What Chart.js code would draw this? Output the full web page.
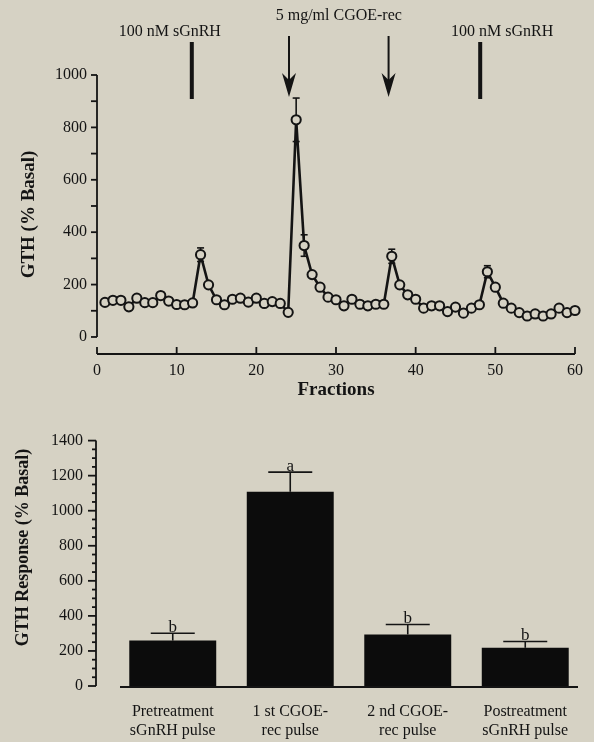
<!DOCTYPE html>
<html>
<head>
<meta charset="utf-8">
<script src="https://cdn.jsdelivr.net/npm/chart.js@4.4.1/dist/chart.umd.min.js"></script>
<style>
  body { margin: 0; background: #d6d2c4; }
  #wrap { position: relative; width: 594px; height: 742px; }
  canvas { position: absolute; left: 0; }
  #topChart { top: 0; }
  #barChart { top: 400px; }
</style>
</head>
<body>
<div id="wrap">
  <canvas id="topChart" width="594" height="400"></canvas>
  <canvas id="barChart" width="594" height="342"></canvas>
</div>
<script>
// top panel: GTH release per fraction
const fractions = [1, 2, 3, 4, 5, 6, 7, 8, 9, 10, 11, 12, 13, 14, 15, 16, 17, 18, 19, 20,
  21, 22, 23, 24, 25, 26, 27, 28, 29, 30, 31, 32, 33, 34, 35, 36, 37, 38, 39, 40,
  41, 42, 43, 44, 45, 46, 47, 48, 49, 50, 51, 52, 53, 54, 55, 56, 57, 58, 59, 60];
const gthBasal = [132, 140, 140, 115, 148, 131, 131, 158, 137, 124, 123, 130, 314, 199, 142, 123, 144, 148, 133, 148,
  128, 135, 128, 94, 829, 349, 238, 190, 152, 142, 119, 144, 125, 119, 125, 125, 308, 199, 161, 144,
  110, 119, 119, 97, 114, 91, 110, 123, 249, 190, 129, 110, 93, 80, 88, 80, 88, 110, 93, 101];
const gthSem = [0, 0, 0, 0, 0, 0, 0, 0, 0, 0, 0, 0, 26, 0, 0, 0, 0, 0, 0, 0,
  0, 0, 0, 0, 83, 41, 0, 0, 0, 0, 0, 0, 0, 0, 0, 0, 27, 0, 0, 0,
  0, 0, 0, 0, 0, 0, 0, 0, 23, 0, 0, 0, 0, 0, 0, 0, 0, 0, 0, 0];
const fracTicks = [0, 10, 20, 30, 40, 50, 60];
const gthTicks = [0, 200, 400, 600, 800, 1000];
// treatments (fraction at which each pulse was given)
const pulseFractions = [11.9, 24.1, 36.6, 48.1];
const pulseKinds = ["bar", "arrow", "arrow", "bar"];

// bottom panel: mean responses
const barLabels = [["Pretreatment", "sGnRH pulse"], ["1 st CGOE-", "rec pulse"], ["2 nd CGOE-", "rec pulse"], ["Postreatment", "sGnRH pulse"]];
const barMeans = [259, 1108, 294, 218];
const barSem = [42, 112, 57, 36];
const sigLetters = ["b", "a", "b", "b"];
const responseTicks = [0, 200, 400, 600, 800, 1000, 1200, 1400];

const paper = "#d6d2c4";
const ink = "#141414";
const serif = '"Liberation Serif", "Times New Roman", serif';

function seg(ctx, x1, y1, x2, y2) {
  ctx.beginPath();
  ctx.moveTo(x1, y1);
  ctx.lineTo(x2, y2);
  ctx.stroke();
}

const topDecor = {
  id: "topDecor",
  beforeDatasetsDraw(chart) {
    const { ctx, scales: { x, y } } = chart;
    ctx.save();
    ctx.strokeStyle = ink;
    ctx.lineWidth = 1.6;
    gthSem.forEach((e, i) => {
      if (!e) return;
      const px = x.getPixelForValue(fractions[i]);
      const lo = y.getPixelForValue(gthBasal[i] - e);
      const hi = y.getPixelForValue(gthBasal[i] + e);
      seg(ctx, px, lo, px, hi);
      seg(ctx, px - 3.5, hi, px + 3.5, hi);
      seg(ctx, px - 3.5, lo, px + 3.5, lo);
    });
    ctx.restore();
  },
  afterDraw(chart) {
    const { ctx, chartArea, scales: { x, y } } = chart;
    ctx.save();
    ctx.strokeStyle = ink;
    ctx.fillStyle = ink;
    ctx.lineWidth = 1.8;
    // y axis, stops at 0
    const ax = chartArea.left;
    seg(ctx, ax, y.getPixelForValue(1000), ax, y.getPixelForValue(0));
    for (let v = 0; v <= 1000; v += 100) {
      const py = y.getPixelForValue(v);
      seg(ctx, ax - 6, py, ax, py);
    }
    // x axis, detached below
    const by = chartArea.bottom;
    seg(ctx, x.getPixelForValue(0), by, x.getPixelForValue(60), by);
    fracTicks.forEach(v => {
      const px = x.getPixelForValue(v);
      seg(ctx, px, by, px, by - 7);
    });
    // pulse markers
    pulseFractions.forEach((f, i) => {
      const px = x.getPixelForValue(f);
      if (pulseKinds[i] === "bar") {
        ctx.fillRect(px - 2, 42, 4, 57);
      } else {
        ctx.lineWidth = 2;
        seg(ctx, px, 36, px, 84);
        ctx.beginPath();
        ctx.moveTo(px, 97);
        ctx.lineTo(px - 7, 73);
        ctx.lineTo(px, 80);
        ctx.lineTo(px + 7, 73);
        ctx.closePath();
        ctx.fill();
      }
    });
    ctx.font = "16px " + serif;
    ctx.textAlign = "center";
    ctx.textBaseline = "middle";
    const p = pulseFractions.map(f => x.getPixelForValue(f));
    ctx.fillText("100 nM sGnRH", p[0] - 22, 32);
    ctx.fillText("5 mg/ml CGOE-rec", (p[1] + p[2]) / 2, 16);
    ctx.fillText("100 nM sGnRH", p[3] + 22, 32);
    ctx.restore();
  }
};

new Chart(document.getElementById("topChart"), {
  type: "line",
  data: {
    datasets: [{
      data: fractions.map((f, i) => ({ x: f, y: gthBasal[i] })),
      borderColor: ink,
      borderWidth: 2.6,
      pointRadius: 4.6,
      pointBorderWidth: 2,
      pointBackgroundColor: paper,
      pointBorderColor: ink,
      tension: 0,
      clip: false
    }]
  },
  options: {
    responsive: false,
    animation: false,
    layout: { padding: { top: 75, right: 19, left: 0, bottom: 0 } },
    plugins: { legend: { display: false }, tooltip: { enabled: false } },
    scales: {
      x: {
        type: "linear",
        min: 0,
        max: 60,
        afterBuildTicks: s => { s.ticks = fracTicks.map(v => ({ value: v })); },
        afterFit: s => { s.height = 46; },
        grid: { display: false, drawTicks: false },
        border: { display: false },
        ticks: { color: ink, font: { family: serif, size: 16 }, padding: 7, maxRotation: 0, callback: v => String(v) },
        title: {
          display: true, text: "Fractions", color: ink,
          font: { family: serif, size: 19, weight: "bold", lineHeight: 1 },
          padding: { top: 0, bottom: 0 }
        }
      },
      y: {
        min: -65,
        max: 1000,
        afterBuildTicks: s => { s.ticks = gthTicks.map(v => ({ value: v })); },
        afterFit: s => { s.width = 97; },
        grid: { display: false, drawTicks: false },
        border: { display: false },
        ticks: { color: ink, font: { family: serif, size: 16 }, padding: 10, callback: v => String(v) },
        title: {
          display: true, text: "GTH (% Basal)", color: ink,
          font: { family: serif, size: 19, weight: "bold", lineHeight: 1 },
          padding: { top: 19.5, bottom: 0 }
        }
      }
    }
  },
  plugins: [topDecor]
});

const barDecor = {
  id: "barDecor",
  afterDraw(chart) {
    const { ctx, chartArea, scales: { x, y } } = chart;
    ctx.save();
    ctx.strokeStyle = ink;
    ctx.fillStyle = ink;
    ctx.lineWidth = 1.8;
    const ax = chartArea.left - 18;
    seg(ctx, ax, y.getPixelForValue(1400), ax, y.getPixelForValue(0));
    for (let v = 0; v <= 1400; v += 50) {
      const py = y.getPixelForValue(v);
      seg(ctx, ax - (v % 200 === 0 ? 8 : 4), py, ax, py);
    }
    const base = y.getPixelForValue(0) + 1;
    seg(ctx, chartArea.left + 6, base, chartArea.right - 6, base);
    // error bars and letters
    ctx.font = "17px " + serif;
    ctx.textAlign = "center";
    ctx.textBaseline = "alphabetic";
    barMeans.forEach((m, i) => {
      const px = x.getPixelForValue(i);
      const top = y.getPixelForValue(m);
      const cap = y.getPixelForValue(m + barSem[i]);
      ctx.lineWidth = 1.6;
      seg(ctx, px, top, px, cap);
      seg(ctx, px - 22, cap, px + 22, cap);
      ctx.fillText(sigLetters[i], px, cap - 1);
    });
    ctx.restore();
  }
};

new Chart(document.getElementById("barChart"), {
  type: "bar",
  data: {
    labels: barLabels,
    datasets: [{
      data: barMeans,
      backgroundColor: "#0c0c0c",
      borderWidth: 0,
      barPercentage: 0.74,
      categoryPercentage: 1
    }]
  },
  options: {
    responsive: false,
    animation: false,
    layout: { padding: { top: 23, right: 10, left: 0, bottom: 0 } },
    plugins: { legend: { display: false }, tooltip: { enabled: false } },
    scales: {
      x: {
        afterFit: s => { s.height = 56; },
        grid: { display: false, drawTicks: false },
        border: { display: false },
        ticks: { color: ink, font: { family: serif, size: 16, lineHeight: 1.15 }, padding: 17, maxRotation: 0 }
      },
      y: {
        min: 0,
        max: 1400,
        afterBuildTicks: s => { s.ticks = responseTicks.map(v => ({ value: v })); },
        afterFit: s => { s.width = 114; },
        grid: { display: false, drawTicks: false },
        border: { display: false },
        ticks: { color: ink, font: { family: serif, size: 16 }, padding: 31, callback: v => String(v) },
        title: {
          display: true, text: "       GTH Response (% Basal)", color: ink,
          font: { family: serif, size: 18, weight: "bold", lineHeight: 1 },
          padding: { top: 14.5, bottom: 0 }
        }
      }
    }
  },
  plugins: [barDecor]
});
</script>
</body>
</html>
